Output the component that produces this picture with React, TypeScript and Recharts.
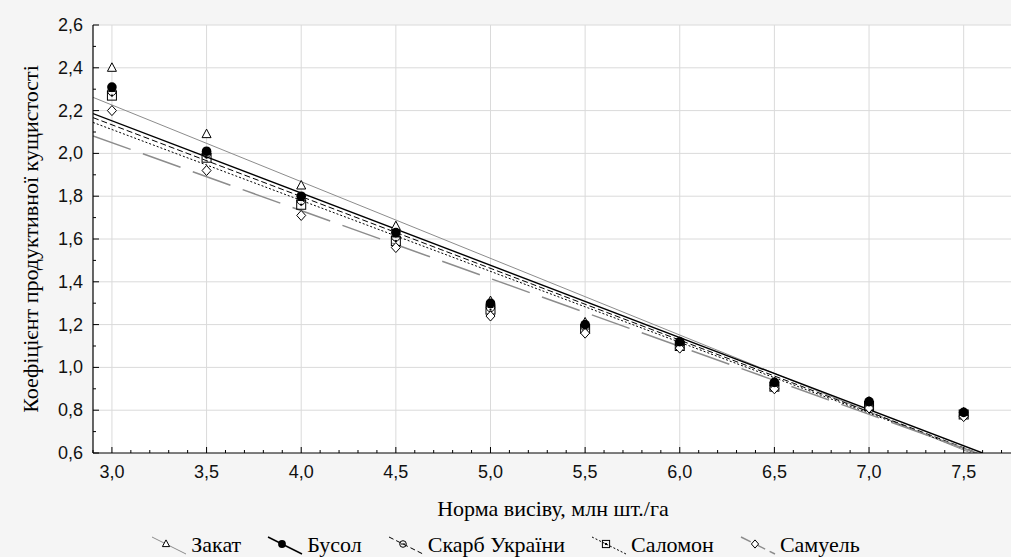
import React from "react";
import { ComposedChart, Line, Scatter, XAxis, YAxis, ReferenceLine, CartesianGrid } from "recharts";

// seeding rate, mln/ha
const doses = [3.0, 3.5, 4.0, 4.5, 5.0, 5.5, 6.0, 6.5, 7.0, 7.5];

// productive tillering coefficient per variety
const zakat = [2.40, 2.09, 1.85, 1.66, 1.31, 1.21, 1.12, 0.93, 0.84, 0.79];
const busol = [2.31, 2.01, 1.80, 1.63, 1.30, 1.20, 1.12, 0.93, 0.84, 0.79];
const skarb = [2.29, 2.00, 1.78, 1.61, 1.28, 1.19, 1.11, 0.92, 0.83, 0.78];
const salomon = [2.27, 1.98, 1.76, 1.59, 1.27, 1.18, 1.10, 0.91, 0.82, 0.78];
const samuel = [2.20, 1.92, 1.71, 1.56, 1.24, 1.16, 1.09, 0.90, 0.81, 0.77];

const xMajor = [3.0, 3.5, 4.0, 4.5, 5.0, 5.5, 6.0, 6.5, 7.0, 7.5];
const yMajor = [0.6, 0.8, 1.0, 1.2, 1.4, 1.6, 1.8, 2.0, 2.2, 2.4, 2.6];

const X_MIN = 2.9;
const X_MAX = 7.75;
const Y_MIN = 0.6;
const Y_MAX = 2.6;

const r1 = (v: number) => Math.round(v * 10) / 10;
const xMinor = Array.from({ length: 49 }, (_, i) => r1(X_MIN + i * 0.1));
const yMinor = Array.from({ length: 21 }, (_, i) => r1(Y_MIN + i * 0.1));

const isMajor = (v: number, list: number[]) => list.some((m) => Math.abs(m - v) < 1e-6);
const fmt = (v: number) => v.toFixed(1).replace(".", ",");

const toPoints = (ys: number[]) => doses.map((x, i) => ({ x, y: ys[i] }));

// least squares trend line, cut where it leaves the plot
function trend(ys: number[]) {
  const n = doses.length;
  const mx = doses.reduce((s, v) => s + v, 0) / n;
  const my = ys.reduce((s, v) => s + v, 0) / n;
  let sxy = 0;
  let sxx = 0;
  doses.forEach((x, i) => {
    sxy += (x - mx) * (ys[i] - my);
    sxx += (x - mx) * (x - mx);
  });
  const b = sxy / sxx;
  const a = my - b * mx;
  let xEnd = X_MAX;
  if (a + b * xEnd < Y_MIN) xEnd = (Y_MIN - a) / b;
  return [
    { x: X_MIN, y: a + b * X_MIN },
    { x: xEnd, y: a + b * xEnd },
  ];
}

const serif = "'Liberation Serif', 'Times New Roman', serif";
const sans = "'Liberation Sans', Arial, sans-serif";

type MarkerKind = "triangle" | "dot" | "circleMinus" | "square" | "diamond";

function Marker({ kind, cx, cy, s = 1 }: { kind: MarkerKind; cx: number; cy: number; s?: number }) {
  const r = 4.5 * s;
  switch (kind) {
    case "triangle":
      return (
        <polygon
          points={`${cx},${cy - r - 0.5} ${cx - r},${cy + r - 1} ${cx + r},${cy + r - 1}`}
          fill="#fff"
          stroke="#000"
          strokeWidth={1}
        />
      );
    case "dot":
      return <circle cx={cx} cy={cy} r={r + 0.3} fill="#000" />;
    case "circleMinus":
      return (
        <g>
          <circle cx={cx} cy={cy} r={r - 0.3} fill="none" stroke="#000" strokeWidth={1} />
          <line x1={cx - r + 1.5} x2={cx + r - 1.5} y1={cy} y2={cy} stroke="#000" strokeWidth={1} />
        </g>
      );
    case "square":
      return (
        <g>
          <rect x={cx - r} y={cy - r} width={2 * r} height={2 * r} fill="none" stroke="#000" strokeWidth={1} />
          <rect x={cx - 1} y={cy - 1} width={2} height={2} fill="#000" />
        </g>
      );
    case "diamond":
      return (
        <polygon
          points={`${cx},${cy - r - 0.5} ${cx + r},${cy} ${cx},${cy + r + 0.5} ${cx - r},${cy}`}
          fill="#fff"
          stroke="#000"
          strokeWidth={1}
        />
      );
  }
  return null;
}

const series = [
  { name: "Закат", values: zakat, marker: "triangle" as MarkerKind, stroke: "#8c8c8c", width: 1, dash: undefined as string | undefined, legendDash: undefined as string | undefined },
  { name: "Бусол", values: busol, marker: "dot" as MarkerKind, stroke: "#000", width: 1.4, dash: undefined, legendDash: undefined },
  { name: "Скарб України", values: skarb, marker: "circleMinus" as MarkerKind, stroke: "#000", width: 1, dash: "6 3", legendDash: "5 3" },
  { name: "Саломон", values: salomon, marker: "square" as MarkerKind, stroke: "#000", width: 1, dash: "2 2", legendDash: "2 2" },
  { name: "Самуель", values: samuel, marker: "diamond" as MarkerKind, stroke: "#8c8c8c", width: 1.5, dash: "40 13", legendDash: "11 5" },
];

// draw order of the point clouds
const scatterOrder = [0, 2, 3, 4, 1];

function XTick(props: any) {
  const { x, y, payload } = props;
  const major = isMajor(payload.value, xMajor);
  return (
    <g>
      <line x1={x} x2={x} y1={y} y2={y - (major ? 6 : 3)} stroke="#000" strokeWidth={1} />
      {major && (
        <text x={x} y={y + 25} textAnchor="middle" fontFamily={sans} fontSize={18} fill="#111">
          {fmt(payload.value)}
        </text>
      )}
    </g>
  );
}

function YTick(props: any) {
  const { x, y, payload } = props;
  const major = isMajor(payload.value, yMajor);
  return (
    <g>
      <line x1={x} x2={x + (major ? 6 : 3)} y1={y} y2={y} stroke="#000" strokeWidth={1} />
      {major && (
        <text x={x - 10} y={y + 6} textAnchor="end" fontFamily={sans} fontSize={18} fill="#111">
          {fmt(payload.value)}
        </text>
      )}
    </g>
  );
}

function LegendItem({ s }: { s: (typeof series)[number] }) {
  return (
    <div style={{ display: "flex", alignItems: "center", margin: "0 13px" }}>
      <svg width={36} height={22}>
        <line x1={1} y1={3} x2={35} y2={20} stroke={s.stroke} strokeWidth={s.width} strokeDasharray={s.legendDash} />
        <Marker kind={s.marker} cx={15} cy={10} s={0.8} />
      </svg>
      <span style={{ fontFamily: serif, fontSize: 22, color: "#000", marginLeft: 4, lineHeight: "24px" }}>{s.name}</span>
    </div>
  );
}

export default function App() {
  return (
    <div style={{ position: "absolute", left: 0, top: 0, width: 1011, height: 557, background: "#f5f5f5", overflow: "hidden" }}>
      <ComposedChart width={1011} height={557} margin={{ top: 25, right: 0, bottom: 0, left: 0 }}>
        <CartesianGrid horizontal={false} vertical={false} fill="#fff" stroke="none" />
        {xMajor.map((v) => (
          <ReferenceLine key={`gx${v}`} x={v} stroke="#dadada" strokeWidth={1} />
        ))}
        {yMajor.slice(1).map((v) => (
          <ReferenceLine key={`gy${v}`} y={v} stroke="#dadada" strokeWidth={1} />
        ))}
        <XAxis
          type="number"
          dataKey="x"
          domain={[X_MIN, X_MAX]}
          ticks={xMinor}
          interval={0}
          allowDataOverflow
          height={104}
          tickSize={0}
          tickMargin={0}
          tickLine={false}
          axisLine={{ stroke: "#000", strokeWidth: 1.2 }}
          tick={<XTick />}
        />
        <YAxis
          type="number"
          dataKey="y"
          domain={[Y_MIN, Y_MAX]}
          ticks={yMinor}
          interval={0}
          allowDataOverflow
          width={93}
          tickSize={0}
          tickMargin={0}
          tickLine={false}
          axisLine={{ stroke: "#000", strokeWidth: 1.2 }}
          tick={<YTick />}
        />
        {series.map((s) => (
          <Line
            key={`l-${s.name}`}
            data={trend(s.values)}
            dataKey="y"
            type="linear"
            stroke={s.stroke}
            strokeWidth={s.width}
            strokeDasharray={s.dash}
            dot={false}
            activeDot={false}
            isAnimationActive={false}
            legendType="none"
          />
        ))}
        {scatterOrder.map((i) => {
          const s = series[i];
          return (
            <Scatter
              key={`s-${s.name}`}
              data={toPoints(s.values)}
              dataKey="y"
              isAnimationActive={false}
              shape={(p: any) => <Marker kind={s.marker} cx={p.cx} cy={p.cy} />}
            />
          );
        })}
      </ComposedChart>

      <svg width={1011} height={557} style={{ position: "absolute", left: 0, top: 0, pointerEvents: "none" }}>
        <text x={553} y={516} textAnchor="middle" fontFamily={serif} fontSize={22} fill="#000">
          Норма висіву, млн шт./га
        </text>
        <text
          x={0}
          y={0}
          transform="translate(38,239) rotate(-90)"
          textAnchor="middle"
          fontFamily={serif}
          fontSize={22}
          fill="#000"
        >
          Коефіцієнт продуктивної кущистості
        </text>
      </svg>

      <div
        style={{
          position: "absolute",
          left: 0,
          top: 533,
          width: 1011,
          display: "flex",
          justifyContent: "center",
          alignItems: "center",
        }}
      >
        {series.map((s) => (
          <LegendItem key={s.name} s={s} />
        ))}
      </div>
    </div>
  );
}
